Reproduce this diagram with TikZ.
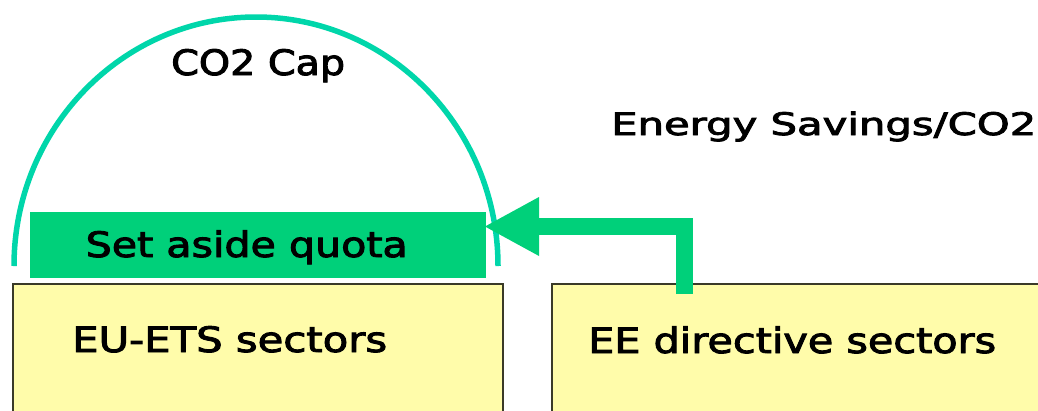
\documentclass[tikz,border=0pt]{standalone}
\usepackage{fontspec}
\usepackage{graphicx}
\setmainfont{DejaVu Sans}
\newfontfamily\lblfont{DejaVu Sans}[FakeBold=2.5]
\usetikzlibrary{arrows.meta}

\definecolor{captint}{RGB}{0,214,170}
\definecolor{quotagreen}{RGB}{0,208,122}
\definecolor{sectorfill}{RGB}{255,252,170}
\definecolor{sectorline}{RGB}{58,58,40}

% stretch a label horizontally to a given width, keeping its height
\newcommand{\widthto}[2]{\resizebox{#1}{\height}{#2}}

\begin{document}
\begin{tikzpicture}[x=1pt, y=-1pt,
  caparc/.style={draw=captint, line width=5.5pt},
  quotabox/.style={fill=quotagreen, inner sep=0, minimum width=456pt, minimum height=66pt},
  sectorbox/.style={fill=sectorfill, draw=sectorline, line width=2pt, inner sep=0,
    anchor=north west, minimum height=160pt},
  lbl/.style={inner sep=0, anchor=base west, font=\lblfont\fontsize{35}{42}\selectfont},
  flow/.style={draw=quotagreen, line width=17pt, line join=miter,
    -{Triangle[length=54pt 0 0, width=59pt 0 0, line width=0pt 0 0]}}]
  \useasboundingbox (0,0) rectangle (1038,410);
  \clip (0,0) rectangle (1038,410);

  % sector boxes
  \node[sectorbox, minimum width=490.5pt] (ets) at (11.5,282.5) {};
  \node[sectorbox, minimum width=520pt] (eed) at (550.5,282.5) {};

  % set-aside quota bar
  \node[quotabox] (quota) at (258,245) {};

  % cap arc over the ETS side
  \coordinate (arcL) at (14,266);
  \draw[caparc] (arcL) arc[start angle=180, end angle=0, x radius=242pt, y radius=249pt];

  % labels
  \node[lbl] (captext) at (171,75) {\widthto{174pt}{CO2 Cap}};
  \node[lbl, font=\lblfont\fontsize{31}{38}\selectfont] (savings) at (611,135) {\widthto{425pt}{Energy Savings/CO2}};
  \node[lbl] (quotatext) at (85.5,257) {\widthto{322pt}{Set aside quota}};
  \node[lbl] (etstext) at (72,352) {\widthto{315pt}{EU-ETS sectors}};
  \node[lbl] (eedtext) at (588,353) {\widthto{408pt}{EE directive sectors}};

  % transfer from the EE directive sectors into the quota
  \coordinate (flowstart) at (684,294);
  \coordinate (flowend) at (485,226.5);
  \draw[flow] (flowstart) |- (flowend);
\end{tikzpicture}
\end{document}
